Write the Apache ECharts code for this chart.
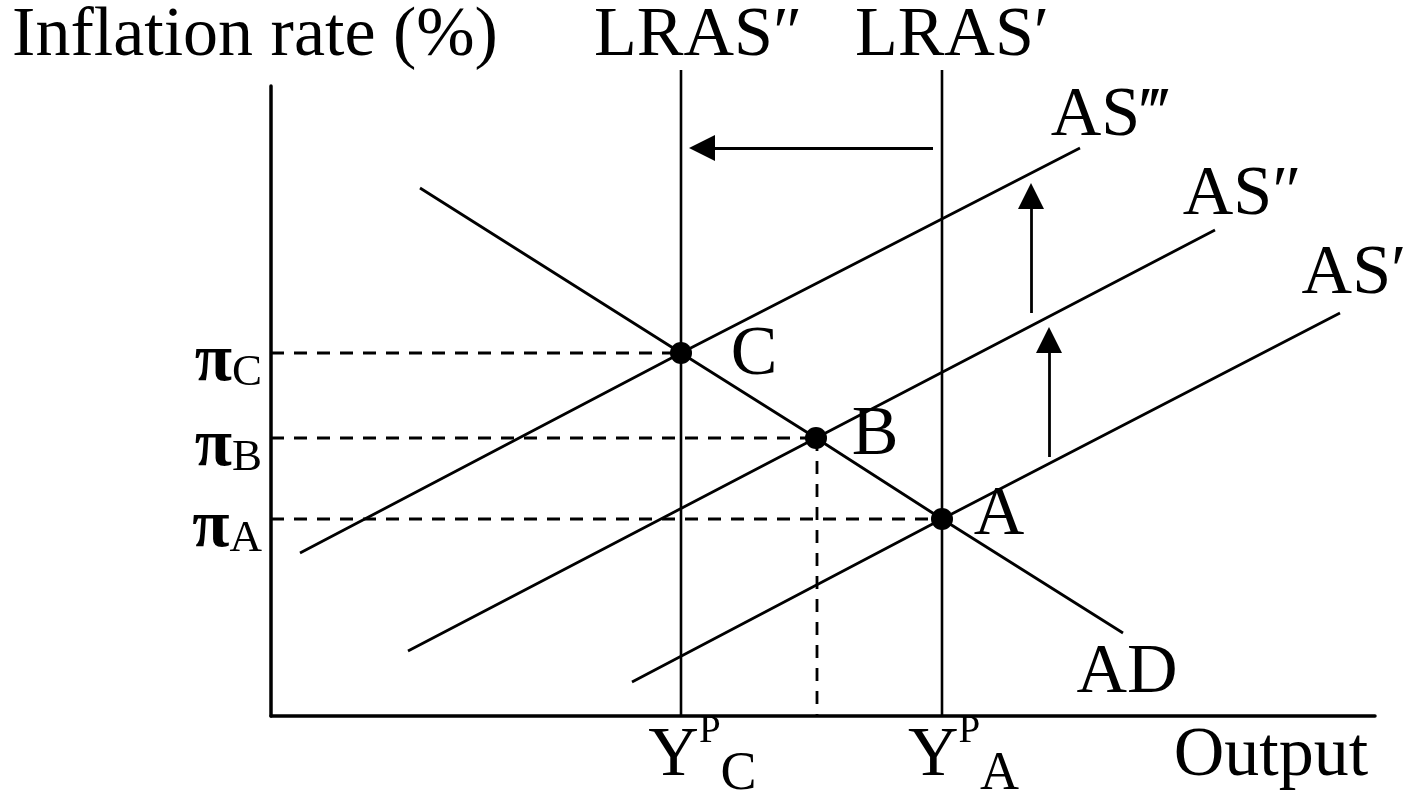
<!DOCTYPE html>
<html>
<head>
<meta charset="utf-8">
<script src="https://cdn.jsdelivr.net/npm/echarts@6/dist/echarts.min.js"></script>
<style>
  html, body { margin: 0; padding: 0; background: #fff; }
  #app { width: 1409px; height: 790px; }
</style>
</head>
<body>
<div id="app"></div>
<script>
var FONT = '"Liberation Serif", "DejaVu Serif", serif';

// long-run supply (vertical lines), x position and top
var lrasC = [[4.10, 0], [4.10, 6.46]];   // LRAS''
var lrasA = [[6.71, 0], [6.71, 6.46]];   // LRAS'

// demand and short-run supply curves
var adLine = [[1.49, 5.28], [4.10, 3.63], [5.45, 2.78], [6.71, 1.97], [8.52, 0.83]];
var as3 = [[0.29, 1.63], [4.10, 3.63], [8.09, 5.68]];
var as2 = [[1.37, 0.65], [5.45, 2.78], [9.44, 4.86]];
var as1 = [[3.61, 0.34], [6.71, 1.97], [10.69, 4.03]];

// equilibrium points C, B, A
var points = [[4.10, 3.63], [5.45, 2.78], [6.71, 1.97]];

// dashed guides
var dashC = [[0, 3.63], [4.10, 3.63]];
var dashB = [[0, 2.78], [5.45, 2.78]];
var dashA = [[0, 1.97], [6.71, 1.97]];
var dashBv = [[5.46, 2.78], [5.46, 0]];

// arrows [from, to] (to = centre of the arrow head)
var arrows = [
  [[6.62, 5.68], [4.31, 5.68]],
  [[7.60, 4.03], [7.60, 5.20]],
  [[7.78, 2.59], [7.78, 3.76]]
];

// tick labels
var yTickValues = [1.97, 2.78, 3.63];
var yTickSubs = ['A', 'B', 'C'];
var xTickValues = [4.10, 6.71];
var xTickSubs = ['C', 'A'];

// curve / point labels
var labelTexts = ['LRAS\u2033', 'LRAS\u2032', 'AS\u2034', 'AS\u2033', 'AS\u2032', 'C', 'B', 'A', 'AD', 'Output'];
var labelPos = [[4.27, 6.79], [6.81, 6.79], [8.39, 5.995], [9.71, 5.20], [10.83, 4.41],
                [4.83, 3.605], [6.04, 2.80], [7.28, 2.00], [8.56, 0.425], [10.00, -0.41]];

function nearestIdx(arr, v) {
  var best = 0;
  for (var i = 1; i < arr.length; i++) {
    if (Math.abs(arr[i] - v) < Math.abs(arr[best] - v)) best = i;
  }
  return best;
}

function solid(name, data, w) {
  return {
    name: name, type: 'line', data: data, symbol: 'none', silent: true, clip: false,
    lineStyle: { color: '#000', width: w || 2.8 }, z: 3
  };
}
function dashed(name, data) {
  return {
    name: name, type: 'line', data: data, symbol: 'none', silent: true, clip: false,
    lineStyle: { color: '#000', width: 2.8, type: [13, 10] }, z: 2
  };
}

var myChart = echarts.init(document.getElementById('app'));

myChart.setOption({
  backgroundColor: '#fff',
  animation: false,
  grid: { left: 271, right: 34, top: 86, bottom: 74, outerBoundsMode: 'none' },
  xAxis: {
    type: 'value', min: 0, max: 11.04,
    axisLine: { show: true, lineStyle: { color: '#000', width: 3.5 } },
    axisTick: { show: false },
    splitLine: { show: false },
    axisLabel: {
      customValues: xTickValues,
      hideOverlap: false,
      showMinLabel: true,
      showMaxLabel: true,
      verticalAlign: 'middle',
      margin: 41,
      padding: [0, 0, 0, 43],
      formatter: function (v) {
        return '{Y|Y}{p|P}{s|' + xTickSubs[nearestIdx(xTickValues, v)] + '}';
      },
      rich: {
        Y: { fontFamily: FONT, fontSize: 70, lineHeight: 70, color: '#000' },
        p: { fontFamily: FONT, fontSize: 39, lineHeight: 39, color: '#000', padding: [0, 0, 50, 0] },
        s: { fontFamily: FONT, fontSize: 54, lineHeight: 54, color: '#000', padding: [36, 0, 0, 0] }
      }
    }
  },
  yAxis: {
    type: 'value', min: 0, max: 6.30,
    name: 'Inflation rate (%)',
    nameLocation: 'end',
    nameGap: 49,
    nameTextStyle: { fontFamily: FONT, fontSize: 70, color: '#000', align: 'center', verticalAlign: 'middle', padding: [0, 32, 0, 0] },
    axisLine: { show: true, lineStyle: { color: '#000', width: 3.5 } },
    axisTick: { show: false },
    splitLine: { show: false },
    axisLabel: { show: false }
  },
  series: [
    solid('LRAS\u2033', lrasC, 2.6),
    solid('LRAS\u2032', lrasA, 2.6),
    solid('AD', adLine),
    solid('AS\u2034', as3),
    solid('AS\u2033', as2),
    solid('AS\u2032', as1),
    dashed('piC', dashC),
    dashed('piB', dashB),
    dashed('piA', dashA),
    dashed('YB', dashBv),
    {
      name: 'shifts',
      type: 'lines',
      coordinateSystem: 'cartesian2d',
      silent: true,
      symbol: ['none', 'triangle'],
      symbolSize: [0, 26],
      lineStyle: { color: '#000', width: 2.8, opacity: 1, curveness: 0 },
      data: arrows.map(function (a) { return { coords: a }; }),
      z: 4
    },
    {
      name: 'equilibria',
      type: 'scatter',
      data: points,
      symbol: 'circle',
      symbolSize: 22,
      itemStyle: { color: '#000', opacity: 1 },
      silent: true,
      z: 5
    },
    {
      // inflation levels written next to the vertical axis
      name: 'piTicks',
      type: 'scatter',
      clip: false,
      symbolSize: 0,
      silent: true,
      itemStyle: { opacity: 1 },
      data: yTickValues.map(function (v, i) { return { value: [0, v], name: yTickSubs[i] }; }),
      label: {
        show: true,
        position: 'left',
        distance: 9,
        formatter: function (p) { return '{pi|\u03c0}{s|' + p.name + '}'; },
        rich: {
          pi: { fontFamily: FONT, fontSize: 68, lineHeight: 48, fontWeight: 'bold', color: '#000', padding: [18, 0, 0, 0] },
          s: { fontFamily: FONT, fontSize: 45, lineHeight: 33, color: '#000', padding: [40, 0, 0, 0] }
        }
      },
      z: 6
    },
    {
      name: 'labels',
      type: 'scatter',
      clip: false,
      symbolSize: 0,
      silent: true,
      itemStyle: { opacity: 1 },
      data: labelPos.map(function (p, i) { return { value: p, name: labelTexts[i] }; }),
      label: {
        show: true,
        position: 'inside',
        formatter: '{b}',
        fontFamily: FONT,
        fontSize: 70,
        color: '#000'
      },
      z: 6
    }
  ]
});
</script>
</body>
</html>
